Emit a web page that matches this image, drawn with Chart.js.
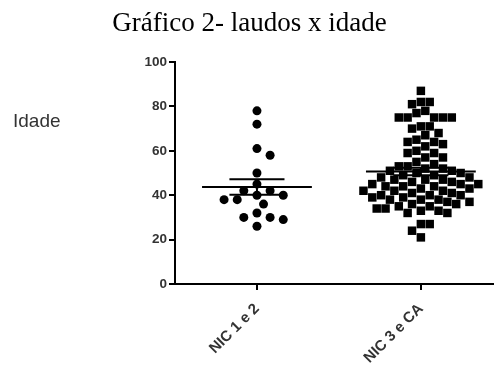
<!DOCTYPE html>
<html>
<head>
<meta charset="utf-8">
<script src="https://cdn.jsdelivr.net/npm/chart.js@4"></script>
<style>
  body { margin: 0; background: #fff; overflow: hidden; }
</style>
</head>
<body>
<canvas id="grafico" width="499" height="367"></canvas>
<script>
const titulo = "Gráfico 2- laudos x idade";
const rotuloY = "Idade";
const categorias = ["NIC 1 e 2", "NIC 3 e CA"];
const ticksY = [0, 20, 40, 60, 80, 100];

// idades
const idadesNic12 = [78, 72, 61, 58, 50, 45, 42, 42, 40, 40, 38, 38, 36, 32, 30, 30, 29, 26];
const idadesNic3CA = [
  87, 82, 82, 81, 78, 77, 75, 75, 75, 75, 75, 71, 71, 70, 68, 67, 65, 64, 64, 63, 62, 60, 59, 59, 57, 57, 55,
  54, 53, 53, 52, 52, 51, 51, 50, 50, 49, 49, 48, 48, 47, 47, 47, 46, 46,
  45, 45, 45, 44, 44, 44, 43, 43, 42, 42, 42, 41, 41, 40, 40, 40,
  39, 39, 38, 38, 38, 37, 37, 36, 36, 35, 35, 34, 34, 33, 33, 32, 32,
  27, 27, 24, 21
];

// escala aproximada em pixels (área do gráfico 324 x 222)
const PX_X = 324 / 1.94;
const PX_Y = 222 / 100;

// distribui os pontos lado a lado (tipo beeswarm) para não se sobreporem
function espalhar(valores, centro, diam, passo) {
  const colocados = [];
  const ordenados = [...valores].sort((a, b) => b - a);
  return ordenados.map(v => {
    const y = v * PX_Y;
    let k = 0, dx = 0;
    while (true) {
      dx = (k % 2 === 1 ? 1 : -1) * Math.ceil(k / 2) * passo;
      if (!colocados.some(p => Math.hypot(p.dx - dx, p.y - y) < diam)) break;
      k++;
    }
    colocados.push({ dx, y });
    return { x: centro + dx / PX_X, y: v };
  });
}

// média e erro padrão, desenhados como linhas
function linhasMedia(valores, centro) {
  const n = valores.length;
  const media = valores.reduce((a, b) => a + b, 0) / n;
  const dp = Math.sqrt(valores.reduce((a, b) => a + (b - media) ** 2, 0) / (n - 1));
  const ep = dp / Math.sqrt(n);
  const lm = 0.335, le = 0.168;
  return [
    { x: centro - lm, y: media }, { x: centro + lm, y: media }, { x: centro, y: null },
    { x: centro - le, y: media + ep }, { x: centro + le, y: media + ep }, { x: centro, y: null },
    { x: centro - le, y: media - ep }, { x: centro + le, y: media - ep }, { x: centro, y: null },
    { x: centro, y: media - ep }, { x: centro, y: media + ep }
  ];
}

const ctx = document.getElementById("grafico").getContext("2d");

const textoIdade = {
  id: "textoIdade",
  afterDraw(chart) {
    const c = chart.ctx;
    c.save();
    c.font = '19px "Liberation Sans"';
    c.fillStyle = "#333";
    c.textAlign = "left";
    c.fillText(rotuloY, 13, 127);
    c.restore();
  }
};

new Chart(ctx, {
  type: "scatter",
  data: {
    datasets: [
      {
        data: linhasMedia(idadesNic12, 1),
        showLine: true, spanGaps: false,
        borderColor: "#000", borderWidth: 2, pointRadius: 0, order: 0
      },
      {
        data: linhasMedia(idadesNic3CA, 2),
        showLine: true, spanGaps: false,
        borderColor: "#000", borderWidth: 2, pointRadius: 0, order: 0
      },
      {
        label: categorias[0],
        data: espalhar(idadesNic12, 1, 10, 6.7),
        pointStyle: "circle", pointRadius: 4.5,
        backgroundColor: "#000", borderColor: "#000", borderWidth: 0, order: 1
      },
      {
        label: categorias[1],
        data: espalhar(idadesNic3CA, 2, 9, 4.5),
        pointStyle: "rect", pointRadius: 6,
        backgroundColor: "#000", borderColor: "#000", borderWidth: 0, order: 1
      }
    ]
  },
  options: {
    responsive: false,
    animation: false,
    devicePixelRatio: 1,
    layout: { padding: { top: 0, left: 0, right: 0, bottom: 0 } },
    plugins: {
      legend: { display: false },
      tooltip: { enabled: false },
      title: {
        display: true,
        text: titulo,
        color: "#000",
        font: { family: "Liberation Serif", size: 27, weight: "normal" },
        padding: { top: 8, bottom: 21.6 }
      }
    },
    scales: {
      x: {
        type: "linear",
        min: 0.5,
        max: 2.44,
        afterBuildTicks: s => { s.ticks = categorias.map((_, i) => ({ value: i + 1 })); },
        afterFit: s => { s.height = 83; },
        ticks: {
          callback: (v, i) => categorias[i],
          minRotation: 45, maxRotation: 45,
          color: "#333", font: { family: "Liberation Sans", size: 15, weight: "bold" }, padding: 10
        },
        grid: { drawOnChartArea: false, tickLength: 6, color: "#000", lineWidth: 2 },
        border: { color: "#000", width: 2 }
      },
      y: {
        min: 0,
        max: 100,
        afterBuildTicks: s => { s.ticks = ticksY.map(v => ({ value: v })); },
        afterFit: s => { s.width = 175; },
        ticks: { color: "#333", font: { family: "Liberation Sans", size: 13.5, weight: "bold" }, padding: 2 },
        grid: { drawOnChartArea: false, tickLength: 6, color: "#000", lineWidth: 2 },
        border: { color: "#000", width: 2 }
      }
    }
  },
  plugins: [textoIdade]
});
</script>
</body>
</html>
